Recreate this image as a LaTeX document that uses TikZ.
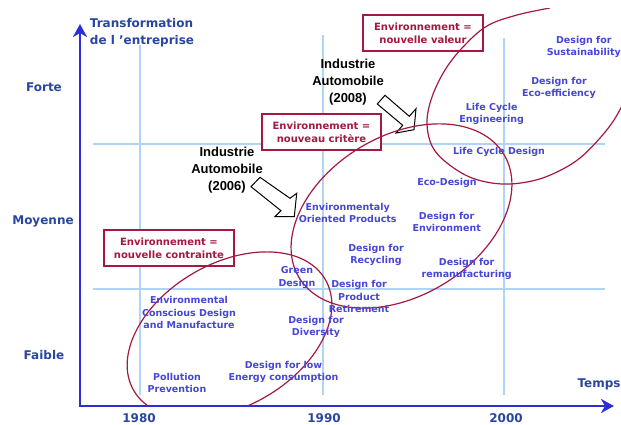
\documentclass[tikz,border=0pt]{standalone}
\usepackage{fontspec}
\setmainfont{DejaVu Sans}
\newfontfamily\arialfont{Liberation Sans}
\usetikzlibrary{arrows.meta}
\definecolor{axisblue}{RGB}{45,45,215}
\definecolor{titleblue}{RGB}{40,70,160}
\definecolor{itemblue}{RGB}{70,70,215}
\definecolor{gridblue}{RGB}{175,212,245}
\definecolor{ringred}{RGB}{165,25,65}

\begin{document}
\begin{tikzpicture}[x=1pt,y=-1pt,
    axis/.style={axisblue, line width=2.6pt, {Stealth[length=13pt,width=14pt,inset=4pt]}-{Stealth[length=13pt,width=14pt,inset=4pt]}},
    gridline/.style={gridblue, line width=1.2pt},
    axislab/.style={text=titleblue, font=\bfseries\fontsize{12}{17}\selectfont, inner sep=0pt},
    item/.style={text=itemblue, font=\bfseries\fontsize{9.5}{12.5}\selectfont, align=center, inner sep=0pt},
    tag/.style={draw=ringred, fill=white, line width=1.3pt, text=ringred, font=\bfseries\fontsize{10}{12.7}\selectfont, align=center, minimum height=36pt, inner sep=0pt},
    car/.style={font=\arialfont\bfseries\fontsize{13}{17}\selectfont, align=center, inner sep=0pt},
    ring/.style={draw=ringred, line width=1.2pt},
    hollow/.style={draw=black, fill=white, line width=1pt}]
  \useasboundingbox (0,0) rectangle (621,425);

  \draw[gridline] (140,45) -- (140,395);
  \draw[gridline] (323,35) -- (323,395);
  \draw[gridline] (504,38) -- (504,395);
  \draw[gridline] (93,144) -- (605,144);
  \draw[gridline] (93,289) -- (605,289);

  \coordinate (O) at (80,406);
  \coordinate (ytip) at (80,24);
  \coordinate (xtip) at (614,406);
  \draw[axis] (ytip) -- (O) -- (xtip);

  \node[axislab, align=left] (title) at (142,33) {Transformation\\de l ’entreprise};
  \node[axislab] (forte) at (44,87) {Forte};
  \node[axislab] (moyenne) at (43,221) {Moyenne};
  \node[axislab] (faible) at (44,355) {Faible};
  \node[axislab] (y1980) at (139,418) {1980};
  \node[axislab] (y1990) at (324,418) {1990};
  \node[axislab] (y2000) at (506,418) {2000};
  \node[axislab] (temps) at (599,384) {Temps};

  \node[tag, minimum width=130pt] (contrainte) at (169,248) {Environnement =\\nouvelle contrainte};
  \node[tag, minimum width=119pt] (critere) at (321.5,132) {Environnement =\\nouveau critère};
  \node[tag, minimum width=120pt] (valeur) at (423,33) {Environnement =\\nouvelle valeur};

  \draw[hollow] (251,186.7) -- (260,177.3) -- (290,198.3) -- (296.7,193.3)
    -- (294.3,216.7) -- (275,216.7) -- (281,210.7) -- cycle;
  \draw[hollow] (377.3,104) -- (385,95.3) -- (409.3,116.3) -- (416,108.7)
    -- (414,129.7) -- (396,133) -- (402.7,125.3) -- cycle;

  \coordinate (E1) at (229.5,335);
  \coordinate (E2) at (401.5,216);
  \begin{scope}
    \clip (0,0) rectangle (621,405);
    \draw[ring, rotate around={30:(E1)}] (E1) ellipse [x radius=110.7, y radius=71.6];
  \end{scope}
  \draw[ring, rotate around={31:(E2)}] (E2) ellipse [x radius=119.5, y radius=80];
  \begin{scope}
    \clip (0,9) rectangle (621,425);
    \draw[ring] plot[smooth, tension=0.6] coordinates {(550,8) (517,15) (487,26) (463,47)
      (445,70) (432,97) (427,122) (432,146) (447,163) (472,178) (502,184) (532,181)
      (557,172) (580,158) (600,138) (614,120) (625,100)};
  \end{scope}

  \node[car] (ia06) at (227,170) {Industrie\\Automobile\\(2006)};
  \node[car] (ia08) at (348,82) {Industrie\\Automobile\\(2008)};

  \node[item] (ecdm) at (189,312.5) {Environmental\\Conscious Design\\and Manufacture};
  \node[item] (pollution) at (177,383) {Pollution\\Prevention};
  \node[item] (lowenergy) at (283.5,372) {Design for low\\Energy consumption};
  \node[item] (green) at (297,277.5) {Green\\Design};
  \node[item] (diversity) at (316,327) {Design for\\Diversity};
  \node[item] (retirement) at (359,296.5) {Design for\\Product\\Retirement};
  \node[item] (recycling) at (376,255) {Design for\\Recycling};
  \node[item] (reman) at (466.7,269) {Design for\\remanufacturing};
  \node[item] (dfe) at (446.7,222) {Design for\\Environment};
  \node[item] (eop) at (347.7,213) {Environmentaly\\Oriented Products};
  \node[item] (ecodesign) at (447,183.3) {Eco-Design};
  \node[item] (lcd) at (499,152.3) {Life Cycle Design};
  \node[item] (lce) at (491.7,113.7) {Life Cycle\\Engineering};
  \node[item] (ecoeff) at (559,87.7) {Design for\\Eco-efficiency};
  \node[item] (sustain) at (583.8,46.7) {Design for\\Sustainability};
\end{tikzpicture}
\end{document}
